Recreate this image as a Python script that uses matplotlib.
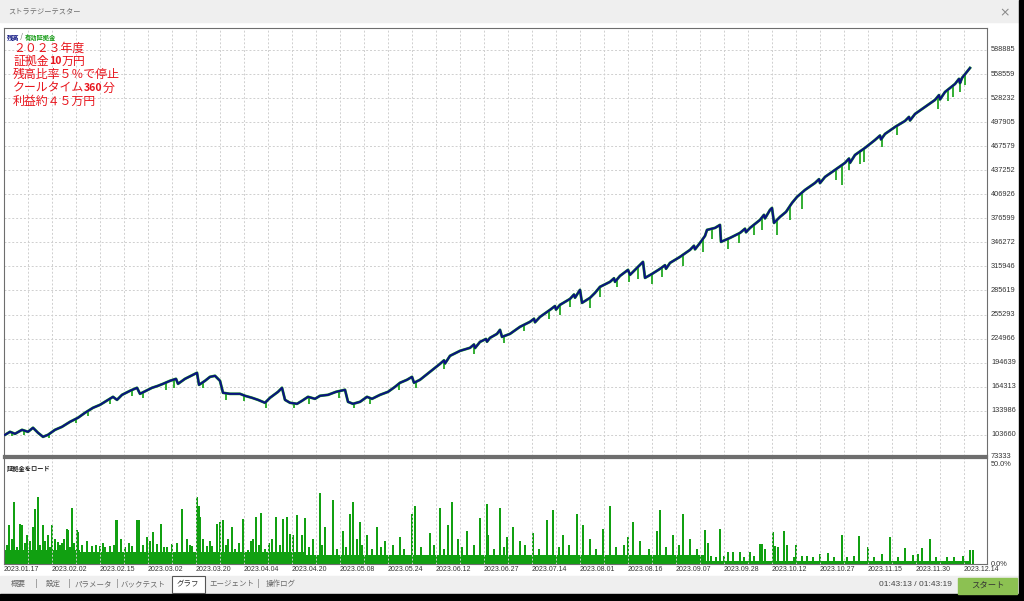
import numpy as np
import matplotlib.pyplot as plt
import matplotlib.transforms as mtransforms
from matplotlib.patches import Rectangle

JP = ['Noto Sans CJK JP', 'DejaVu Sans']
NUM = 'Liberation Sans'

# 残高 (balance): deal number / value
bal_deal = [1, 6, 11, 18, 24, 29, 34, 39, 44, 51, 58, 66, 74, 81, 89, 96, 104, 109, 113, 118,
            126, 133, 136, 142, 148, 154, 159, 166, 172, 174, 181, 189, 193, 195, 201, 206,
            211, 216, 219, 226, 236, 241, 248, 254, 261, 266, 274, 278, 281, 286, 293, 298,
            304, 311, 316, 324, 332, 341, 344, 349, 356, 363, 368, 376, 384, 391, 396, 403,
            408, 410, 416, 426, 436, 440, 441, 446, 456, 466, 470, 471, 476, 482, 483, 486,
            493, 496, 498, 506, 516, 526, 530, 531, 536, 546, 551, 552, 556, 566, 570, 571,
            576, 578, 586, 591, 596, 606, 610, 611, 616, 624, 626, 636, 639, 641, 648, 656,
            661, 662, 666, 676, 686, 690, 691, 696, 701, 703, 711, 716, 717, 726, 736, 741,
            742, 746, 756, 760, 761, 766, 768, 770, 776, 782, 788, 793, 801, 811, 815, 816,
            821, 831, 841, 845, 846, 851, 861, 871, 876, 877, 881, 891, 901, 905, 906, 911,
            921, 931, 935, 936, 941, 951, 955, 956, 958, 966]
bal_value = [103600, 107400, 104900, 109900, 107400, 112500, 106200, 101100, 103600, 109900,
             113700, 120000, 125100, 131400, 137700, 141400, 147700, 151500, 147700, 154000,
             159100, 162900, 155300, 159100, 162900, 165400, 167900, 171700, 174200, 167900,
             174200, 179300, 181800, 166600, 171700, 176700, 178000, 171700, 156600, 155300,
             155300, 152800, 150300, 147700, 144000, 150300, 157800, 162900, 147700, 144000,
             142700, 146500, 151500, 149000, 152800, 154000, 157800, 160400, 145200, 142700,
             145200, 151500, 149000, 154000, 157800, 164100, 169200, 173000, 176700, 169200,
             173000, 183000, 193100, 197500, 193500, 203200, 209500, 213300, 217500, 213000,
             220800, 224500, 221000, 225900, 230900, 236000, 227100, 230900, 239800, 246100,
             250000, 245500, 252300, 261200, 266000, 261500, 267500, 275000, 280500, 276500,
             286400, 270000, 276300, 282600, 290200, 296500, 301000, 296500, 304000, 311600,
             305300, 317900, 321700, 301500, 306500, 312900, 317500, 313000, 320400, 328000,
             336800, 342000, 337500, 345600, 354400, 362000, 364500, 368300, 346900, 351900,
             358200, 363500, 359000, 364500, 374600, 381000, 376500, 387200, 389700, 370800,
             378400, 384700, 396000, 403600, 412400, 421200, 426000, 421000, 428800, 437600,
             446500, 452000, 446500, 456500, 465400, 475400, 481000, 476000, 483000, 491800,
             499400, 504500, 500000, 508200, 517000, 525900, 532000, 526500, 535900, 546000,
             552500, 547000, 553600, 566200]

# 有効証拠金 (equity): lowest point of each drawdown spike
dip_deal = [8, 20, 45, 72, 84, 106, 128, 139, 162, 170, 199, 222, 240, 262, 290, 305, 335,
            350, 366, 395, 412, 440, 470, 500, 520, 545, 556, 566, 586, 596, 613, 625, 634,
            648, 658, 679, 699, 708, 724, 735, 750, 758, 773, 786, 798, 832, 838, 845, 856,
            860, 878, 893, 934, 944, 949, 956, 961]
dip_low = [102000, 104000, 99000, 118000, 127000, 143000, 153000, 150000, 160000, 163000,
           163000, 148000, 146000, 138000, 137000, 143000, 150000, 137000, 143000, 160000,
           163000, 186000, 205000, 220000, 235000, 250000, 255000, 265000, 264000, 278000,
           290000, 296000, 300000, 294000, 302000, 316000, 334000, 350000, 338000, 345000,
           355000, 362000, 356000, 375000, 388000, 425000, 418000, 438000, 445000, 448000,
           466000, 482000, 515000, 524000, 530000, 536000, 545000]

# 証拠金をロード (margin load, %)
load_base_start = [0, 76, 300, 700]
load_base_end = [76, 300, 700, 966]
load_base_pct = [6.5, 5.6, 4.4, 1.6]

spike_deal = [0, 5, 10, 16, 18, 26, 29, 31, 34, 39, 44, 48, 51, 54, 58, 63, 64, 68, 73, 74,
              88, 96, 101, 106, 112, 113, 121, 128, 133, 135, 143, 149, 153, 157, 163, 168,
              178, 183, 188, 193, 195, 196, 199, 203, 208, 213, 216, 219, 224, 228, 231, 239,
              244, 249, 252, 257, 261, 268, 272, 279, 283, 286, 289, 293,
              298, 301, 309, 316, 321, 329, 339, 346, 349, 353, 356, 363, 373, 381, 396, 408,
              411, 426, 436, 444, 448, 454, 463, 476, 483, 484, 496, 503, 509, 516, 529, 543,
              549, 559, 573, 579, 586, 599, 606, 624, 629, 636, 653, 656, 669, 679, 686,
              701, 704, 716, 724, 729, 736, 746, 756, 758, 761, 769, 771, 774, 780, 783, 792,
              803, 809, 816, 824, 838, 843, 855, 864, 878, 886, 901, 909, 914, 918, 926, 943,
              959, 966, 969]
spike_pct = [19.4, 18.6, 30.0, 19.4, 18.6, 11.3, 17.8, 26.7, 32.4, 18.6, 13.8, 18.6, 12.1,
             10.5, 10.2, 17.0, 16.2, 27.0, 16.2, 15.4, 8.9, 8.9, 8.1, 8.9, 21.0, 21.0, 8.1,
             8.9, 21.0, 21.0, 12.9, 15.4, 9.7, 19.4, 8.1, 9.7, 26.7, 12.1, 8.9, 32.4, 28.0,
             22.7, 12.1, 8.9, 8.9, 19.4, 20.2, 21.0, 12.1, 17.8, 7.3, 21.8, 6.5, 12.1, 22.7,
             24.3, 7.3, 12.1, 22.7, 21.8, 22.7, 14.6, 13.8, 23.5,
             14.0, 22.0, 12.0, 34.0, 18.0, 31.0, 16.0, 24.0, 30.0, 12.0, 20.0, 14.0, 18.0,
             11.0, 13.0, 24.0, 28.0, 15.0, 27.0, 19.0, 30.0, 12.0, 16.0, 22.0, 29.0, 14.0,
             27.0, 13.0, 18.0, 11.0, 15.0, 21.0, 26.0, 14.0, 24.0, 19.0, 12.0, 17.0, 28.0,
             13.0, 20.0, 11.0, 16.0, 26.0, 14.0, 24.0, 12.0,
             16.2, 10.2, 16.7, 5.7, 5.9, 5.7, 5.7, 9.7, 9.4, 7.3, 15.4, 8.9, 8.1, 15.7, 9.2,
             9.2, 3.7, 3.4, 4.9, 5.3, 13.8, 3.4, 13.3, 8.1, 4.9, 12.9, 7.6, 4.5, 4.9, 7.6,
             12.1, 3.2, 4.0, 6.5, 6.5]

minor_deal = [3, 8, 13, 21, 23, 36, 41, 46, 56, 60, 66, 70, 78, 83, 92, 99, 110, 117, 125,
              139, 146, 160, 173, 186, 206, 222, 235, 247, 255, 265, 276,
              305, 318, 333, 342, 358, 368, 377, 389, 400, 417, 430, 440, 458, 470, 490, 500,
              521, 535, 555, 565, 592, 612, 620, 645, 662, 675, 693,
              707, 712, 720, 740, 750, 790, 798, 830, 850, 870, 894, 932, 950]
minor_pct = [9, 12, 8, 10, 14, 9, 11, 8, 9, 12, 8, 10, 9, 11, 9, 10, 9, 12, 10,
             9, 11, 8, 10, 9, 11, 9, 10, 11, 9, 10, 9,
             8, 9, 7, 8, 9, 7, 8, 9, 7, 8, 9, 7, 8, 9, 7, 8,
             9, 7, 8, 9, 7, 8, 9, 7, 8, 9, 7,
             4, 3.5, 4, 3.5, 4, 3.5, 4, 3.5, 4, 3.5, 3.5, 3.5, 3.5]

y_tick_labels = ['73333', '103660', '133986', '164313', '194639', '224966', '255293',
                 '285619', '315946', '346272', '376599', '406926', '437252', '467579',
                 '497905', '528232', '558559', '588885']
date_labels = ['2023.01.17', '2023.02.02', '2023.02.15', '2023.03.02', '2023.03.20',
               '2023.04.04', '2023.04.20', '2023.05.08', '2023.05.24', '2023.06.12',
               '2023.06.27', '2023.07.14', '2023.08.01', '2023.08.16', '2023.09.07',
               '2023.09.28', '2023.10.12', '2023.10.27', '2023.11.15', '2023.11.30',
               '2023.12.14']
tab_labels = ['概要', '設定', 'パラメータ', 'バックテスト', 'グラフ', 'エージェント', '操作ログ']
memo_lines = [['２０２３年度'], ['証拠金', '10', '万円'], ['残高比率５％で停止'],
              ['クールタイム', '360', '分'], ['利益約４５万円']]

W, H = 1024, 601
fig = plt.figure(figsize=(W / 100, H / 100), dpi=100)
fig.patch.set_facecolor('white')


def fx(x):
    return x / W


def fy(y):
    return 1 - y / H


def rect(x, y, w, h, **kw):
    fig.patches.append(Rectangle((fx(x), fy(y + h)), w / W, h / H,
                                 transform=fig.transFigure, **kw))


# window frame
rect(0, 0, W, 22, color='#efefef', zorder=0)
rect(0, 576, W, 18, color='#efefef', zorder=0)
rect(0, 594, W, 7, color='black', zorder=0)
rect(1019, 0, 5, H, color='black', zorder=0)
fig.text(fx(8), fy(12), 'ストラテジーテスター', family=JP, fontsize=5.2, color='#6a6a6a',
         va='center')
fig.text(fx(1005), fy(13), '×', fontsize=9, color='#888888', va='center', ha='center')

# main chart
ax = fig.add_axes([fx(4), fy(456), 983 / W, 428 / H])
ax.set_xlim(0, 983)
ax.set_ylim(76900, 616600)
tick_vals = [73333 + i * 30326.6 for i in range(len(y_tick_labels))]
ax.set_yticks(tick_vals[1:])
ax.set_xticks(np.arange(24, 983, 24))
ax.tick_params(left=False, bottom=False, labelleft=False, labelbottom=False)
ax.grid(color='#cfcfcf', linestyle=(0, (2, 2)), linewidth=0.7)
for s in ax.spines.values():
    s.set_color('#6e6e6e')
ax.spines['bottom'].set_linewidth(1.6)

trans = mtransforms.blended_transform_factory(ax.transAxes, ax.transData)
for v, lab in zip(tick_vals[1:], y_tick_labels[1:]):
    ax.text(1.004, v, lab, transform=trans, family=NUM, fontsize=5.3, color='#333333',
            va='center', clip_on=False)
fig.text(fx(991), fy(456.5), y_tick_labels[0], family=NUM, fontsize=5.3, color='#333333',
         va='center')

ax.plot(bal_deal, bal_value, color='#22a822', linewidth=2.0, zorder=2)
dip_top = np.interp(dip_deal, bal_deal, bal_value)
ax.vlines(dip_deal, dip_low, dip_top, color='#22a822', linewidth=1.3, zorder=2)
ax.plot(bal_deal, bal_value, color='#0b1280', linewidth=1.5, zorder=3)

t = ax.text(0.003, 0.985, '残高', transform=ax.transAxes, family=JP, fontsize=4.5,
            color='#0b1280', va='top', fontweight='bold')
t = ax.annotate(' / ', xy=(1, 0), xycoords=t, family=JP, fontsize=4.5, color='#555555',
                va='bottom')
ax.annotate('有効証拠金', xy=(1, 0), xycoords=t, family=JP, fontsize=4.5, color='#139a13',
            va='bottom', fontweight='bold')

# memo in red
for i, parts in enumerate(memo_lines):
    t = None
    for p in parts:
        bold = p.isdigit()
        kw = dict(family=JP, fontsize=7.6 if bold else 8.6, color='#e8141c',
                  fontweight='bold' if bold else 'normal')
        if t is None:
            t = fig.text(fx(13), fy(48 + 13.3 * i), p, va='center', **kw)
        else:
            t = ax.annotate(p, xy=(1, 0.5), xycoords=t, va='center', **kw)

# margin load panel
ax2 = fig.add_axes([fx(4), fy(564), 983 / W, 106 / H])
ax2.set_xlim(0, 983)
ax2.set_ylim(0, 51)
ax2.set_xticks(np.arange(24, 983, 24))
ax2.set_yticks([])
ax2.tick_params(left=False, bottom=False, labelleft=False, labelbottom=False)
ax2.grid(axis='x', color='#cfcfcf', linestyle=(0, (2, 2)), linewidth=0.7)
for s in ax2.spines.values():
    s.set_color('#6e6e6e')
ax2.spines['top'].set_linewidth(1.6)
ax2.bar(load_base_start, load_base_pct,
        width=np.array(load_base_end) - np.array(load_base_start), align='edge',
        color='#11a011', linewidth=0)
ax2.bar(spike_deal, spike_pct, width=1.8, color='#11a011', linewidth=0)
ax2.bar(minor_deal, minor_pct, width=1.8, color='#11a011', linewidth=0)
ax2.text(0.003, 0.93, '証拠金をロード', transform=ax2.transAxes, family=JP, fontsize=4.5,
         color='#222222', va='top', fontweight='bold')
ax2.text(1.004, 49.5, '50.0%', transform=ax2.get_yaxis_transform(), family=NUM,
         fontsize=5.3, color='#333333', va='top', clip_on=False)
ax2.text(1.004, 0, '0.0%', transform=ax2.get_yaxis_transform(), family=NUM,
         fontsize=5.3, color='#333333', va='center', clip_on=False)
for k, lab in enumerate(date_labels):
    ax2.text(17 + 48 * k, -1.2, lab, family=NUM, fontsize=5, color='#333333', ha='center',
             va='top', clip_on=False)

# tab bar
tab_x = [18, 53, 93, 143, 188, 232, 281]
rect(172, 576, 33, 17, facecolor='white', edgecolor='#555555', linewidth=0.8, zorder=1)
for x, lab in zip(tab_x, tab_labels):
    fig.text(fx(x), fy(584), lab, family=JP, fontsize=5.4,
             color='#333333' if lab == 'グラフ' else '#6a6a6a', ha='center', va='center')
for x in [36, 69, 117, 258]:
    fig.text(fx(x), fy(584), '|', fontsize=6, color='#8a8a8a', ha='center', va='center')
fig.text(fx(915), fy(585), '01:43:13 / 01:43:19', family=NUM, fontsize=6, color='#444444',
         ha='center', va='center')
rect(958, 578, 59, 16, color='#8cc152', zorder=1)
fig.text(fx(988), fy(586), 'スタート', family=JP, fontsize=6, color='#333333',
         ha='center', va='center')

fig.savefig('out.png', dpi=100)
